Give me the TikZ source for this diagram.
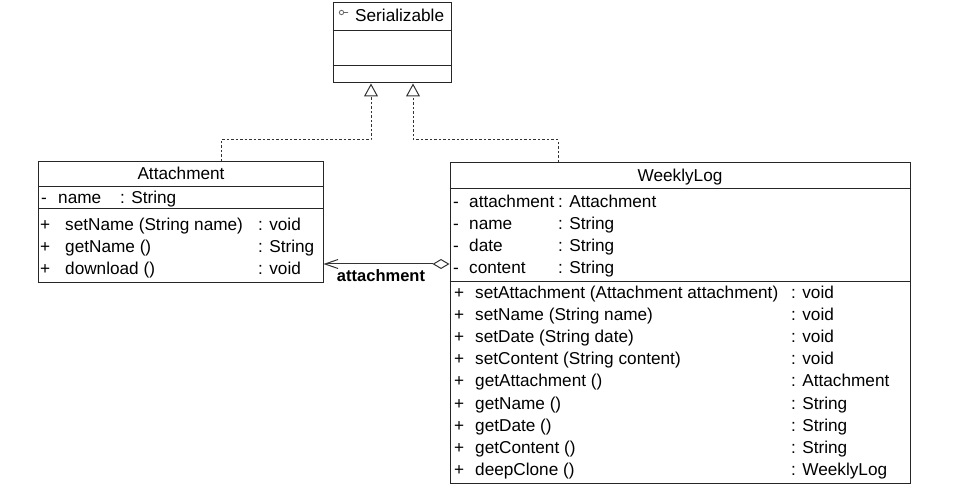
\documentclass[tikz,border=0pt]{standalone}
\usepackage{fontspec}
\setmainfont{Liberation Sans}
\usetikzlibrary{arrows.meta}

\newcommand{\umlfont}{\fontsize{17.2bp}{22bp}\selectfont}

\begin{document}
\begin{tikzpicture}[
    x=1bp, y=-1bp,
    classbox/.style={rectangle, draw=black!85, line width=1bp, inner sep=0pt},
    sepline/.style={draw=black!85, line width=1bp},
    member/.style={inner sep=0pt, anchor=base west, font=\umlfont},
    classname/.style={inner sep=0pt, anchor=base, font=\umlfont},
    realize/.style={draw=black!80, line width=1bp, dash pattern=on 2.5bp off 2bp, -{Triangle[open, length=13bp, width=14bp]}},
    assoc/.style={draw=black!80, line width=1bp, {Diamond[open, length=17bp, width=10bp]}-{Straight Barb[length=13bp, width=9bp]}}
]
\useasboundingbox (0,0) rectangle (972,492);

% Interface
\node[classbox, minimum width=118bp, minimum height=80bp] (ser) at (392,43) {};
\node[classname, anchor=base west] (serName) at (355,22) {Serializable};
\draw[black!60, line width=0.8bp] (341.5,12.5) circle (2.2bp) (343.7,12.5) -- (348,12.5);
\draw[sepline] ([yshift=-28bp]ser.north west) -- ([yshift=-28bp]ser.north east);
\draw[sepline] ([yshift=-63bp]ser.north west) -- ([yshift=-63bp]ser.north east);

% Attachment class
\node[classbox, minimum width=284bp, minimum height=121bp] (att) at (181,222.5) {};
\node[classname] (attName) at (att.north |- 0,180) {Attachment};
\draw[sepline] ([yshift=-25bp]att.north west) -- ([yshift=-25bp]att.north east);
\draw[sepline] ([yshift=-47bp]att.north west) -- ([yshift=-47bp]att.north east);
\node[member] (attAttr) at (41,204) {\begin{tabular}[t]{@{}p{17bp}@{}p{62bp}@{}l@{}}
- & name & : String
\end{tabular}};
\node[member] (attOps) at (40,231) {\begin{tabular}[t]{@{}p{25bp}@{}p{193bp}@{}l@{}}
+ & setName (String name) & : void\\
+ & getName () & : String\\
+ & download () & : void
\end{tabular}};

% WeeklyLog class
\node[classbox, minimum width=460bp, minimum height=320bp] (wlog) at (680,323) {};
\node[classname] (wlogName) at (wlog.north |- 0,182) {WeeklyLog};
\draw[sepline] ([yshift=-26bp]wlog.north west) -- ([yshift=-26bp]wlog.north east);
\draw[sepline] ([yshift=-119bp]wlog.north west) -- ([yshift=-119bp]wlog.north east);
\node[member] (wlogAttr) at (453,208) {\begin{tabular}[t]{@{}p{16bp}@{}p{89bp}@{}l@{}}
- & attachment & : Attachment\\
- & name & : String\\
- & date & : String\\
- & content & : String
\end{tabular}};
\node[member] (wlogOps) at (454,299) {\begin{tabular}[t]{@{}p{21bp}@{}p{316bp}@{}l@{}}
+ & setAttachment (Attachment attachment) & : void\\
+ & setName (String name) & : void\\
+ & setDate (String date) & : void\\
+ & setContent (String content) & : void\\
+ & getAttachment () & : Attachment\\
+ & getName () & : String\\
+ & getDate () & : String\\
+ & getContent () & : String\\
+ & deepClone () & : WeeklyLog
\end{tabular}};

% Realizations
\coordinate (bendA) at (221,140);
\coordinate (bendW) at (558,140);
\coordinate (tipA) at (371,83);
\coordinate (tipW) at (413,83);
\draw[realize] (att.north -| bendA) -- (bendA) -- (bendA -| tipA) -- (ser.south -| tipA);
\draw[realize] (wlog.north -| bendW) -- (bendW) -- (bendW -| tipW) -- (ser.south -| tipW);

% Aggregation
\coordinate (assocY) at (0,264);
\draw[assoc] (wlog.west |- assocY) -- (att.east |- assocY);
\node[inner sep=0pt, anchor=base, font=\fontsize{16.5bp}{20bp}\selectfont\bfseries] (assocLbl) at (381,282) {attachment};

\end{tikzpicture}
\end{document}
